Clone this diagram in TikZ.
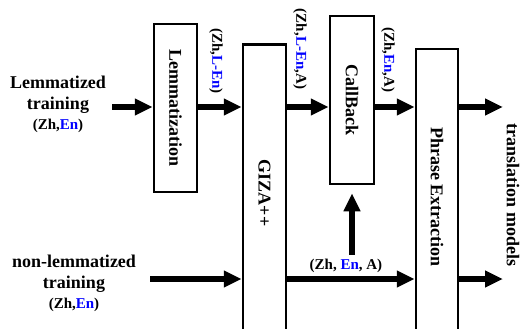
\documentclass[tikz,border=0pt]{standalone}
\usepackage{fontspec}
\setmainfont{Liberation Serif}
\usetikzlibrary{arrows.meta}
\newcommand{\bigfnt}{\fontsize{18}{22}\selectfont\bfseries}
\newcommand{\smlfnt}{\fontsize{15}{18}\selectfont\bfseries}
\tikzset{
  procbox/.style={draw=black, line width=2.5pt, inner sep=0pt, fill=white},
  flow/.style={line width=5.5pt, -{Triangle[length=18pt,width=16pt]}},
  lbl/.style={inner sep=0pt, font=\smlfnt},
  biglbl/.style={inner sep=0pt, align=center, font=\bigfnt},
}
\begin{document}
\begin{tikzpicture}[x=1pt,y=-1pt]
\useasboundingbox (0,0) rectangle (523,329);
\clip (0,0) rectangle (523,329);
\coordinate (r1) at (0,107);
\coordinate (r2) at (0,279);
% boxes
\node[procbox, minimum width=43pt, minimum height=168pt] (lem) at (175.5,108) {\rotatebox{-90}{\bigfnt Lemmatization}};
\node[procbox, minimum width=43pt, minimum height=297pt] (giza) at (264.5,193) {\rotatebox{-90}{\bigfnt GIZA++}};
\node[procbox, minimum width=44pt, minimum height=168pt] (cb) at (352,100) {\rotatebox{-90}{\bigfnt CallBack}};
\node[procbox, minimum width=42pt, minimum height=296pt] (pe) at (437,197) {\rotatebox{-90}{\bigfnt Phrase Extraction}};
% left labels
\node[biglbl] (lt) at (58,104) {Lemmatized\\[-1pt]training\\[-2pt]{\smlfnt (Zh,\textcolor{blue}{En})}};
\node[biglbl] (nt) at (74,283) {non-lemmatized\\[-1pt]training\\[-2pt]{\smlfnt (Zh,\textcolor{blue}{En})}};
\node[biglbl, rotate=-90] (tm) at (513,195) {translation models};
% rotated labels
\node[lbl, rotate=-90] (l1) at (216,61) {(Zh,\textcolor{blue}{L-En})};
\node[lbl, rotate=-90] (l2) at (300,49) {(Zh,\textcolor{blue}{L-En},A)};
\node[lbl, rotate=-90] (l3) at (388,60) {(Zh,\textcolor{blue}{En},A)};
\node[lbl] (l4) at (346,266) {(Zh, \textcolor{blue}{En}, A)};
% start/end coordinates
\coordinate (s1) at (112,107);
\coordinate (s2) at (150,279);
\coordinate (e1) at (503,107);
\coordinate (e2) at (503,279);
% arrows
\draw[flow] (s1) -- (lem.west |- r1);
\draw[flow] (lem.east |- r1) -- (giza.west |- r1);
\draw[flow] (giza.east |- r1) -- (cb.west |- r1);
\draw[flow] (cb.east |- r1) -- (pe.west |- r1);
\draw[flow] (pe.east |- r1) -- (e1);
\draw[flow] (s2) -- (giza.west |- r2);
\draw[flow] (giza.east |- r2) -- (pe.west |- r2);
\draw[flow] (pe.east |- r2) -- (e2);
\draw[flow, shorten <=4pt, shorten >=8pt] (l4.north -| cb.south) -- (cb.south);
\end{tikzpicture}
\end{document}
